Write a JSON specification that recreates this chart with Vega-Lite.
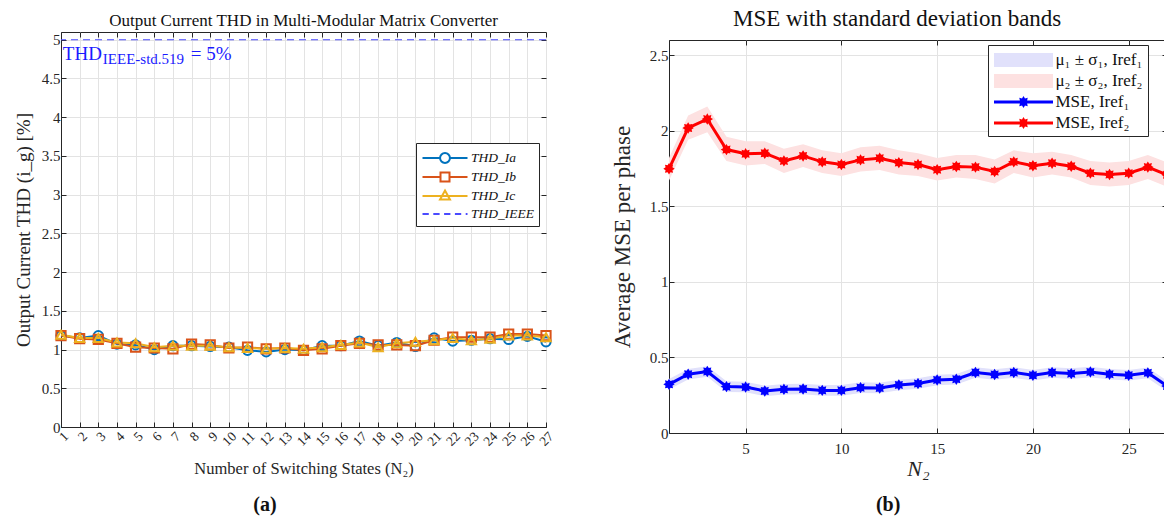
{
  "$schema": "https://vega.github.io/schema/vega-lite/v6.json",
  "background": "white",
  "padding": {"left": 13, "top": 7, "right": 0, "bottom": 0},
  "datasets": {
    "thd": [
      {"n":1,"Ia":1.18,"Ib":1.18,"Ic":1.19},{"n":2,"Ia":1.15,"Ib":1.14,"Ic":1.15},{"n":3,"Ia":1.18,"Ib":1.13,"Ic":1.15},
      {"n":4,"Ia":1.07,"Ib":1.08,"Ic":1.09},{"n":5,"Ia":1.06,"Ib":1.03,"Ic":1.08},{"n":6,"Ia":1.00,"Ib":1.02,"Ic":1.03},
      {"n":7,"Ia":1.05,"Ib":1.01,"Ic":1.05},{"n":8,"Ia":1.05,"Ib":1.07,"Ic":1.05},{"n":9,"Ia":1.04,"Ib":1.06,"Ic":1.05},
      {"n":10,"Ia":1.03,"Ib":1.02,"Ic":1.03},{"n":11,"Ia":0.99,"Ib":1.03,"Ic":1.02},{"n":12,"Ia":0.97,"Ib":1.01,"Ic":1.01},
      {"n":13,"Ia":1.00,"Ib":1.02,"Ic":1.02},{"n":14,"Ia":0.99,"Ib":0.99,"Ic":1.01},{"n":15,"Ia":1.05,"Ib":1.01,"Ic":1.03},
      {"n":16,"Ia":1.05,"Ib":1.05,"Ic":1.06},{"n":17,"Ia":1.11,"Ib":1.08,"Ic":1.09},{"n":18,"Ia":1.05,"Ib":1.06,"Ic":1.03},
      {"n":19,"Ia":1.09,"Ib":1.06,"Ic":1.08},{"n":20,"Ia":1.04,"Ib":1.05,"Ic":1.10},{"n":21,"Ia":1.15,"Ib":1.12,"Ic":1.12},
      {"n":22,"Ia":1.11,"Ib":1.16,"Ic":1.15},{"n":23,"Ia":1.12,"Ib":1.16,"Ic":1.12},{"n":24,"Ia":1.14,"Ib":1.16,"Ic":1.14},
      {"n":25,"Ia":1.13,"Ib":1.20,"Ic":1.18},{"n":26,"Ia":1.17,"Ib":1.20,"Ic":1.18},{"n":27,"Ia":1.10,"Ib":1.18,"Ic":1.16}
    ],
    "b1": [
      {"n":1,"mse":0.322,"lo":0.287,"hi":0.357},{"n":2,"mse":0.389,"lo":0.354,"hi":0.424},{"n":3,"mse":0.407,"lo":0.372,"hi":0.442},
      {"n":4,"mse":0.307,"lo":0.272,"hi":0.342},{"n":5,"mse":0.304,"lo":0.269,"hi":0.339},{"n":6,"mse":0.278,"lo":0.243,"hi":0.313},
      {"n":7,"mse":0.289,"lo":0.254,"hi":0.324},{"n":8,"mse":0.291,"lo":0.256,"hi":0.326},{"n":9,"mse":0.282,"lo":0.247,"hi":0.317},
      {"n":10,"mse":0.282,"lo":0.247,"hi":0.317},{"n":11,"mse":0.300,"lo":0.265,"hi":0.335},{"n":12,"mse":0.298,"lo":0.263,"hi":0.333},
      {"n":13,"mse":0.318,"lo":0.283,"hi":0.353},{"n":14,"mse":0.327,"lo":0.292,"hi":0.362},{"n":15,"mse":0.351,"lo":0.316,"hi":0.386},
      {"n":16,"mse":0.356,"lo":0.321,"hi":0.391},{"n":17,"mse":0.400,"lo":0.365,"hi":0.435},{"n":18,"mse":0.387,"lo":0.352,"hi":0.422},
      {"n":19,"mse":0.400,"lo":0.365,"hi":0.435},{"n":20,"mse":0.382,"lo":0.347,"hi":0.417},{"n":21,"mse":0.400,"lo":0.365,"hi":0.435},
      {"n":22,"mse":0.393,"lo":0.358,"hi":0.428},{"n":23,"mse":0.404,"lo":0.369,"hi":0.439},{"n":24,"mse":0.389,"lo":0.354,"hi":0.424},
      {"n":25,"mse":0.382,"lo":0.347,"hi":0.417},{"n":26,"mse":0.398,"lo":0.363,"hi":0.433},{"n":27,"mse":0.311,"lo":0.276,"hi":0.346}
    ],
    "b2": [
      {"n":1,"mse":1.748,"lo":1.67,"hi":1.82},{"n":2,"mse":2.018,"lo":1.94,"hi":2.10},{"n":3,"mse":2.077,"lo":1.99,"hi":2.16},
      {"n":4,"mse":1.875,"lo":1.80,"hi":1.96},{"n":5,"mse":1.847,"lo":1.77,"hi":1.93},{"n":6,"mse":1.851,"lo":1.78,"hi":1.93},
      {"n":7,"mse":1.800,"lo":1.72,"hi":1.88},{"n":8,"mse":1.833,"lo":1.76,"hi":1.91},{"n":9,"mse":1.794,"lo":1.72,"hi":1.87},
      {"n":10,"mse":1.776,"lo":1.70,"hi":1.85},{"n":11,"mse":1.807,"lo":1.73,"hi":1.89},{"n":12,"mse":1.818,"lo":1.74,"hi":1.90},
      {"n":13,"mse":1.789,"lo":1.71,"hi":1.87},{"n":14,"mse":1.776,"lo":1.70,"hi":1.85},{"n":15,"mse":1.742,"lo":1.67,"hi":1.82},
      {"n":16,"mse":1.763,"lo":1.69,"hi":1.84},{"n":17,"mse":1.759,"lo":1.68,"hi":1.84},{"n":18,"mse":1.730,"lo":1.65,"hi":1.81},
      {"n":19,"mse":1.794,"lo":1.72,"hi":1.87},{"n":20,"mse":1.768,"lo":1.69,"hi":1.85},{"n":21,"mse":1.785,"lo":1.71,"hi":1.86},
      {"n":22,"mse":1.765,"lo":1.69,"hi":1.84},{"n":23,"mse":1.719,"lo":1.64,"hi":1.80},{"n":24,"mse":1.710,"lo":1.63,"hi":1.79},
      {"n":25,"mse":1.719,"lo":1.64,"hi":1.80},{"n":26,"mse":1.759,"lo":1.68,"hi":1.84},{"n":27,"mse":1.708,"lo":1.63,"hi":1.79}
    ]
  },
  "config": {
    "font": "Liberation Serif",
    "view": {"stroke": "#262626", "strokeWidth": 1},
    "axis": {"labelFont": "Liberation Serif", "titleFont": "Liberation Serif", "titleFontWeight": "normal", "labelColor": "#262626", "titleColor": "#262626", "gridColor": "#e3e3e3", "domainColor": "#262626", "tickColor": "#262626", "labelFontSize": 15, "titleFontSize": 16, "tickSize": -5, "labelOverlap": false},
    "title": {"font": "Liberation Serif", "fontWeight": "normal", "color": "#111111"},
    "legend": {"labelFont": "Liberation Serif", "labelColor": "#111111"}
  },
  "spacing": 53,
  "resolve": {"scale": {"color": "independent", "shape": "independent"}, "legend": {"color": "independent", "shape": "independent"}},
  "hconcat": [
    {
      "title": {"text": "(a)", "orient": "bottom", "fontSize": 20, "fontWeight": "bold", "font": "Liberation Serif", "offset": 18, "anchor": "middle", "frame": "bounds", "dx": -20},
      "vconcat": [
        {
          "width": 485, "height": 395,
          "title": {"text": "Output Current THD in Multi-Modular Matrix Converter", "fontSize": 17, "offset": 1.4},
          "resolve": {"axis": {"x": "independent", "y": "independent"}},
          "layer": [
            {
              "data": {"name": "thd"},
              "transform": [{"fold": ["Ia", "Ib", "Ic"], "as": ["s", "v"]}],
              "mark": {"type": "line", "strokeWidth": 2},
              "encoding": {
                "x": {"field": "n", "type": "quantitative", "scale": {"domain": [1, 27], "nice": false, "zero": false},
                  "axis": {"values": [1,2,3,4,5,6,7,8,9,10,11,12,13,14,15,16,17,18,19,20,21,22,23,24,25,26,27], "labelAngle": -45, "labelPadding": 7, "title": "Number of Switching States (N₂)", "titlePadding": 12, "labelFontSize": 13.5, "titleFontSize": 16.5}},
                "y": {"field": "v", "type": "quantitative", "scale": {"domain": [0, 5.1], "nice": false},
                  "axis": {"values": [0,0.5,1,1.5,2,2.5,3,3.5,4,4.5,5], "format": "~g", "title": "Output Current THD (i_g) [%]", "titlePadding": 8, "labelPadding": 6, "titleFontSize": 19}},
                "color": {"field": "s", "type": "nominal", "scale": {"domain": ["Ia", "Ib", "Ic", "IEEE"], "range": ["#0072BD", "#D95319", "#EDB120", "#4a4aff"]},
                  "legend": {
                    "orient": "none", "legendX": 355, "legendY": 111, "title": null,
                    "labelExpr": "datum.value=='Ia' ? 'THD_Ia' : datum.value=='Ib' ? 'THD_Ib' : datum.value=='Ic' ? 'THD_Ic' : 'THD_IEEE'",
                    "labelFontStyle": "italic", "labelFontSize": 13.5, "strokeColor": "#262626", "fillColor": "white", "padding": 5,
                    "symbolSize": 324, "rowPadding": -2, "symbolOffset": 14, "labelOffset": 16,
                    "encode": {"symbols": {"update": {
                      "shape": [
                        {"test": "datum.value=='Ia'", "value": "M-2.5,0H-0.55M0.55,0H2.5M0.55,0A0.55,0.55 0 1,1 -0.55,0A0.55,0.55 0 1,1 0.55,0"},
                        {"test": "datum.value=='Ib'", "value": "M-2.5,0H-0.5M0.5,0H2.5M-0.5,-0.5H0.5V0.5H-0.5Z"},
                        {"test": "datum.value=='Ic'", "value": "M-2.5,0H2.5M0,-0.6L0.55,0.4H-0.55Z"},
                        {"value": "M-2.5,0H-1.8M-1.3,0H-0.6M-0.1,0H0.6M1.1,0H1.8M2.3,0H2.5"}
                      ],
                      "stroke": [
                        {"test": "datum.value=='Ia'", "value": "#0072BD"},
                        {"test": "datum.value=='Ib'", "value": "#D95319"},
                        {"test": "datum.value=='Ic'", "value": "#EDB120"},
                        {"value": "#4a4aff"}
                      ],
                      "fill": {"value": "transparent"},
                      "strokeWidth": {"value": 2},
                      "size": {"value": 324},
                      "opacity": {"value": 1}
                    }}}
                  }}
              }
            },
            {
              "data": {"name": "thd"},
              "transform": [{"fold": ["Ia", "Ib", "Ic"], "as": ["s", "v"]}],
              "mark": {"type": "point", "filled": false, "strokeWidth": 2, "size": 85, "opacity": 1},
              "encoding": {
                "x": {"field": "n", "type": "quantitative", "axis": null},
                "y": {"field": "v", "type": "quantitative", "axis": null},
                "color": {"field": "s", "type": "nominal"},
                "shape": {"field": "s", "type": "nominal", "scale": {"domain": ["Ia", "Ib", "Ic"], "range": ["circle", "square", "triangle-up"]}, "legend": null}
              }
            },
            {
              "data": {"values": [{}]},
              "mark": {"type": "rule", "strokeDash": [7, 5], "strokeWidth": 1.2},
              "encoding": {
                "y": {"datum": 5, "type": "quantitative", "axis": null},
                "color": {"datum": "IEEE", "type": "nominal"}
              }
            },
            {
              "data": {"values": [{}]},
              "mark": {"type": "text", "text": "THD", "align": "left", "baseline": "alphabetic", "fontSize": 19, "font": "Liberation Serif", "color": "#1a1aff"},
              "encoding": {"x": {"datum": 1.1, "type": "quantitative", "axis": null}, "y": {"datum": 4.74, "type": "quantitative", "axis": null}}
            },
            {
              "data": {"values": [{}]},
              "mark": {"type": "text", "text": "IEEE-std.519", "align": "left", "baseline": "alphabetic", "fontSize": 15, "font": "Liberation Serif", "color": "#1a1aff", "dx": 40, "dy": 4},
              "encoding": {"x": {"datum": 1.1, "type": "quantitative", "axis": null}, "y": {"datum": 4.74, "type": "quantitative", "axis": null}}
            },
            {
              "data": {"values": [{}]},
              "mark": {"type": "text", "text": "= 5%", "align": "left", "baseline": "alphabetic", "fontSize": 19, "font": "Liberation Serif", "color": "#1a1aff", "dx": 128},
              "encoding": {"x": {"datum": 1.1, "type": "quantitative", "axis": null}, "y": {"datum": 4.74, "type": "quantitative", "axis": null}}
            },
            {
              "data": {"values": [{}]},
              "mark": {"type": "point", "opacity": 0},
              "encoding": {
                "x": {"datum": 1, "type": "quantitative", "axis": {"orient": "top", "values": [1,2,3,4,5,6,7,8,9,10,11,12,13,14,15,16,17,18,19,20,21,22,23,24,25,26,27], "labels": false, "grid": false, "title": null, "domain": false}},
                "y": {"datum": 0, "type": "quantitative", "axis": {"orient": "right", "values": [0,0.5,1,1.5,2,2.5,3,3.5,4,4.5,5], "labels": false, "grid": false, "title": null, "domain": false}}
              }
            }
          ]
        }
      ]
    },
    {
      "title": {"text": "(b)", "orient": "bottom", "fontSize": 20, "fontWeight": "bold", "font": "Liberation Serif", "offset": 15, "anchor": "middle", "frame": "bounds", "dx": -4},
      "vconcat": [
        {
          "title": {"text": "MSE with standard deviation bands", "fontSize": 23, "offset": -2.5, "anchor": "middle", "dx": 5},
          "spacing": 0,
          "vconcat": [
            {
              "width": 498, "height": 4,
              "view": {"stroke": null},
              "data": {"values": [{}]},
              "mark": {"type": "text", "text": ""},
              "encoding": {}
            },
            {
              "width": 498, "height": 393,
              "resolve": {"axis": {"x": "independent", "y": "independent"}},
              "layer": [
                {
                  "data": {"name": "b1"},
                  "mark": {"type": "area", "opacity": 1},
                  "encoding": {
                    "x": {"field": "n", "type": "quantitative", "scale": {"domain": [1, 27], "nice": false, "zero": false},
                      "axis": {"values": [5, 10, 15, 20, 25], "title": "N₂", "titleFontSize": 22, "titleFontStyle": "italic", "labelFontSize": 15, "labelPadding": 13, "titlePadding": 2}},
                    "y": {"field": "lo", "type": "quantitative", "scale": {"domain": [0, 2.6], "nice": false},
                      "axis": {"values": [0, 0.5, 1, 1.5, 2, 2.5], "format": "~g", "title": "Average MSE per phase", "titleFontSize": 23, "labelFontSize": 15, "labelPadding": 6, "titlePadding": 15}},
                    "y2": {"field": "hi"},
                    "color": {"datum": "b1", "type": "nominal", "scale": {"domain": ["b1", "b2", "m1", "m2"], "range": ["#e1e1fb", "#fde1e1", "#0000ff", "#ff0000"]}}
                  }
                },
                {
                  "data": {"name": "b2"},
                  "mark": {"type": "area", "opacity": 1},
                  "encoding": {
                    "x": {"field": "n", "type": "quantitative", "axis": null},
                    "y": {"field": "lo", "type": "quantitative", "axis": null},
                    "y2": {"field": "hi"},
                    "color": {"datum": "b2", "type": "nominal"}
                  }
                },
                {
                  "data": {"name": "b1"},
                  "mark": {"type": "line", "strokeWidth": 3},
                  "encoding": {
                    "x": {"field": "n", "type": "quantitative", "axis": null},
                    "y": {"field": "mse", "type": "quantitative", "axis": null},
                    "color": {"datum": "m1", "type": "nominal",
                      "legend": {
                        "orient": "none", "legendX": 319, "legendY": 13, "title": null,
                        "labelExpr": "datum.value=='b1' ? 'μ₁ ± σ₁, Iref₁' : datum.value=='b2' ? 'μ₂ ± σ₂, Iref₂' : datum.value=='m1' ? 'MSE, Iref₁' : 'MSE, Iref₂'",
                        "labelFontSize": 17, "strokeColor": "#262626", "fillColor": "white", "padding": 5,
                        "symbolSize": 400, "rowPadding": 3, "symbolOffset": 20.5, "labelOffset": 22,
                        "symbolType": "M-2.95,-0.15H2.95V0.15H-2.95Z M0.6,0L0.36,0.149L0.424,0.424L0.149,0.36L0,0.6L-0.149,0.36L-0.424,0.424L-0.36,0.149L-0.6,0L-0.36,-0.149L-0.424,-0.424L-0.149,-0.36L0,-0.6L0.149,-0.36L0.424,-0.424L0.36,-0.149Z",
                        "encode": {"symbols": {"update": {
                          "shape": [
                            {"test": "datum.value=='b1' || datum.value=='b2'", "value": "M-2.95,-0.7H2.95V0.7H-2.95Z"},
                            {"value": "M-2.95,-0.15H2.95V0.15H-2.95Z M0.6,0L0.36,0.149L0.424,0.424L0.149,0.36L0,0.6L-0.149,0.36L-0.424,0.424L-0.36,0.149L-0.6,0L-0.36,-0.149L-0.424,-0.424L-0.149,-0.36L0,-0.6L0.149,-0.36L0.424,-0.424L0.36,-0.149Z"}
                          ],
                          "fill": [
                            {"test": "datum.value=='b1'", "value": "#e1e1fb"},
                            {"test": "datum.value=='b2'", "value": "#fde1e1"},
                            {"test": "datum.value=='m1'", "value": "#0000ff"},
                            {"value": "#ff0000"}
                          ],
                          "stroke": {"value": "transparent"},
                          "strokeWidth": {"value": 0},
                          "size": {"value": 400},
                          "opacity": {"value": 1}
                        }}}
                      }}
                  }
                },
                {
                  "data": {"name": "b1"},
                  "mark": {"type": "point", "filled": true, "opacity": 1, "size": 130, "shape": "M1,0L0.6,0.249L0.707,0.707L0.249,0.6L0,1L-0.249,0.6L-0.707,0.707L-0.6,0.249L-1,0L-0.6,-0.249L-0.707,-0.707L-0.249,-0.6L0,-1L0.249,-0.6L0.707,-0.707L0.6,-0.249Z"},
                  "encoding": {
                    "x": {"field": "n", "type": "quantitative", "axis": null},
                    "y": {"field": "mse", "type": "quantitative", "axis": null},
                    "color": {"datum": "m1", "type": "nominal"}
                  }
                },
                {
                  "data": {"name": "b2"},
                  "mark": {"type": "line", "strokeWidth": 3},
                  "encoding": {
                    "x": {"field": "n", "type": "quantitative", "axis": null},
                    "y": {"field": "mse", "type": "quantitative", "axis": null},
                    "color": {"datum": "m2", "type": "nominal"}
                  }
                },
                {
                  "data": {"name": "b2"},
                  "mark": {"type": "point", "filled": true, "opacity": 1, "size": 130, "shape": "M1,0L0.6,0.249L0.707,0.707L0.249,0.6L0,1L-0.249,0.6L-0.707,0.707L-0.6,0.249L-1,0L-0.6,-0.249L-0.707,-0.707L-0.249,-0.6L0,-1L0.249,-0.6L0.707,-0.707L0.6,-0.249Z"},
                  "encoding": {
                    "x": {"field": "n", "type": "quantitative", "axis": null},
                    "y": {"field": "mse", "type": "quantitative", "axis": null},
                    "color": {"datum": "m2", "type": "nominal"}
                  }
                },
                {
                  "data": {"values": [{}]},
                  "mark": {"type": "point", "opacity": 0},
                  "encoding": {
                    "x": {"datum": 1, "type": "quantitative", "axis": {"orient": "top", "values": [5, 10, 15, 20, 25], "labels": false, "grid": false, "title": null, "domain": false}},
                    "y": {"datum": 0, "type": "quantitative", "axis": {"orient": "right", "values": [0, 0.5, 1, 1.5, 2, 2.5], "labels": false, "grid": false, "title": null, "domain": false}}
                  }
                }
              ]
            }
          ]
        }
      ]
    }
  ]
}
